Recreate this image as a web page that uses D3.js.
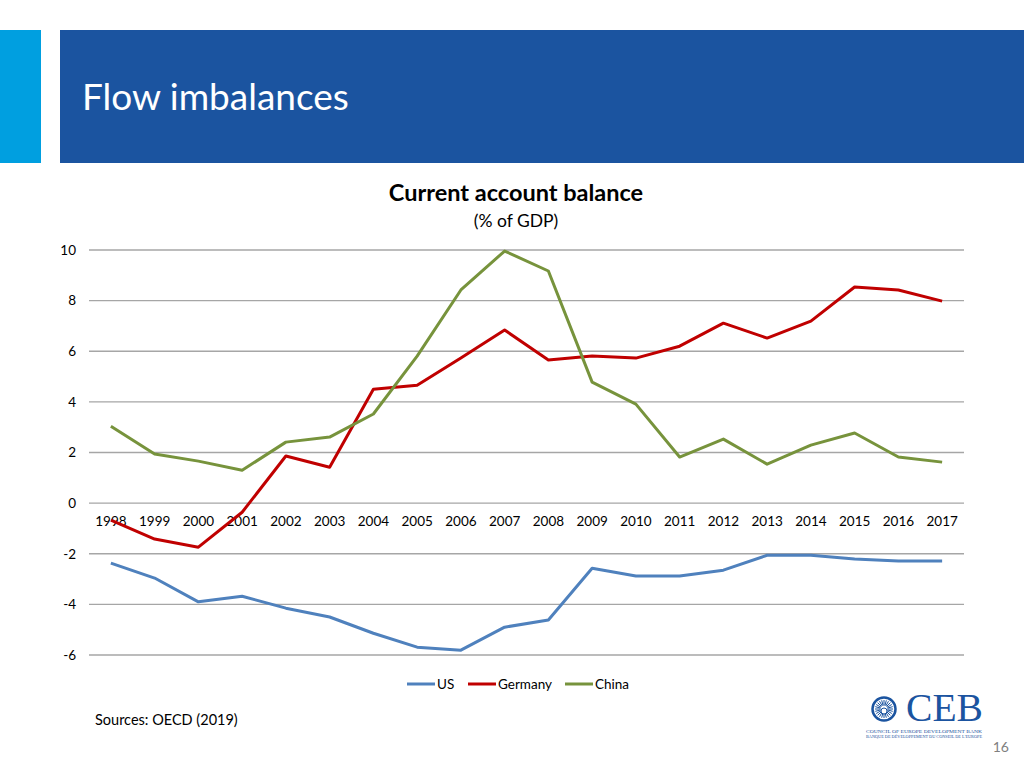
<!DOCTYPE html>
<html><head><meta charset="utf-8">
<script src="https://cdn.jsdelivr.net/npm/d3@7"></script>
<style>body{margin:0;background:#fff}svg{display:block;font-family:Lato,"Open Sans",sans-serif}</style>
</head><body>
<svg id="c" width="1024" height="768"></svg>
<script>
const years = ["1998","1999","2000","2001","2002","2003","2004","2005","2006","2007","2008","2009","2010","2011","2012","2013","2014","2015","2016","2017"];
const us = [-2.37,-2.96,-3.9,-3.68,-4.15,-4.5,-5.14,-5.69,-5.81,-4.9,-4.62,-2.57,-2.88,-2.88,-2.65,-2.06,-2.06,-2.21,-2.29,-2.29];
const germany = [-0.67,-1.42,-1.74,-0.36,1.86,1.42,4.5,4.66,5.73,6.84,5.65,5.81,5.73,6.2,7.11,6.52,7.19,8.54,8.42,7.98];
const china = [3.04,1.94,1.66,1.3,2.41,2.61,3.52,5.81,8.42,9.96,9.17,4.78,3.91,1.82,2.53,1.54,2.29,2.77,1.82,1.62];
const yTicks = [-6,-4,-2,0,2,4,6,8,10];
const seriesNames = ["US","Germany","China"];
const colors = ["#4F81BD","#C00000","#77933C"];

const svg = d3.select("#c");
const FF = "Lato,'Open Sans',sans-serif";
// header
svg.append("rect").attr("x",0).attr("y",30).attr("width",41).attr("height",133).attr("fill","#009FE0");
svg.append("rect").attr("x",60).attr("y",30).attr("width",964).attr("height",133).attr("fill","#1B54A0");
svg.append("text").attr("x",82).attr("y",110).attr("fill","#fff").attr("font-size",37).text("Flow imbalances");

// titles
svg.append("text").attr("x",516).attr("y",201).attr("text-anchor","middle").attr("font-size",23.5).attr("font-weight","bold").attr("fill","#000").text("Current account balance");
svg.append("text").attr("x",516).attr("y",227).attr("text-anchor","middle").attr("font-size",17.5).attr("fill","#000").text("(% of GDP)");

const x = d3.scaleBand().domain(years).range([89,964]);
const y = d3.scaleLinear().domain([-6,10]).range([655,250]);

svg.append("g").selectAll("line").data(yTicks).join("line")
  .attr("x1",89).attr("x2",964).attr("y1",d=>y(d)).attr("y2",d=>y(d))
  .attr("stroke","#A6A6A6").attr("stroke-width",1.3);

const yAxis = d3.axisLeft(y).tickValues(yTicks).tickSize(0).tickPadding(0).tickFormat(d=>String(d));
const ya = svg.append("g").attr("transform","translate(76,0)").call(yAxis);
ya.select(".domain").remove();
ya.selectAll("text").attr("font-size",13.5).attr("font-family",FF).attr("fill","#000");

const xAxis = d3.axisBottom(x).tickSize(0).tickPadding(0);
const xa = svg.append("g").attr("transform",`translate(0,${y(0)+13})`).call(xAxis);
xa.select(".domain").remove();
xa.selectAll("text").attr("font-size",13.5).attr("font-family",FF).attr("fill","#000");

const line = d3.line().x((d,i)=>x(years[i])+x.bandwidth()/2).y(d=>y(d));
[us,germany,china].forEach((s,k)=>{
  svg.append("path").datum(s).attr("d",line).attr("fill","none")
    .attr("stroke",colors[k]).attr("stroke-width",3).attr("stroke-linejoin","round");
});

// legend
const legX = [407,468,565];
seriesNames.forEach((n,k)=>{
  svg.append("line").attr("x1",legX[k]).attr("x2",legX[k]+28).attr("y1",684).attr("y2",684).attr("stroke",colors[k]).attr("stroke-width",3);
  svg.append("text").attr("x",legX[k]+30).attr("y",689).attr("font-size",13.5).attr("fill","#000").text(n);
});

svg.append("text").attr("x",95).attr("y",725).attr("font-size",14.5).attr("fill","#000").text("Sources: OECD (2019)");
svg.append("text").attr("x",1009).attr("y",752).attr("text-anchor","end").attr("font-size",14).attr("fill","#808080").text("16");

// logo
const lg = svg.append("g");
const cx=884, cy=709;
lg.append("circle").attr("cx",cx).attr("cy",cy).attr("r",11.5).attr("fill","none").attr("stroke","#1B54A0").attr("stroke-width",2.5);
d3.range(24).forEach(i=>{
  const a=i/24*2*Math.PI;
  lg.append("line").attr("x1",cx+Math.cos(a)*3.5).attr("y1",cy+Math.sin(a)*3.5).attr("x2",cx+Math.cos(a)*9).attr("y2",cy+Math.sin(a)*9).attr("stroke","#1B54A0").attr("stroke-width",1);
});
lg.append("circle").attr("cx",cx).attr("cy",cy+2).attr("r",3).attr("fill","#fff").attr("stroke","#1B54A0");
lg.append("text").attr("x",906).attr("y",721).attr("font-family","'Liberation Serif',serif").attr("font-size",39).attr("fill","#1B54A0").attr("textLength",77).attr("lengthAdjust","spacingAndGlyphs").text("CEB");
lg.append("text").attr("x",866).attr("y",733).attr("font-family","'Liberation Serif',serif").attr("font-size",3.4).attr("fill","#1B54A0").attr("textLength",116).attr("lengthAdjust","spacingAndGlyphs").text("COUNCIL OF EUROPE DEVELOPMENT BANK");
lg.append("text").attr("x",866).attr("y",738).attr("font-family","'Liberation Serif',serif").attr("font-size",3.4).attr("fill","#1B54A0").attr("textLength",116).attr("lengthAdjust","spacingAndGlyphs").text("BANQUE DE DÉVELOPPEMENT DU CONSEIL DE L'EUROPE");
</script>
</body></html>
